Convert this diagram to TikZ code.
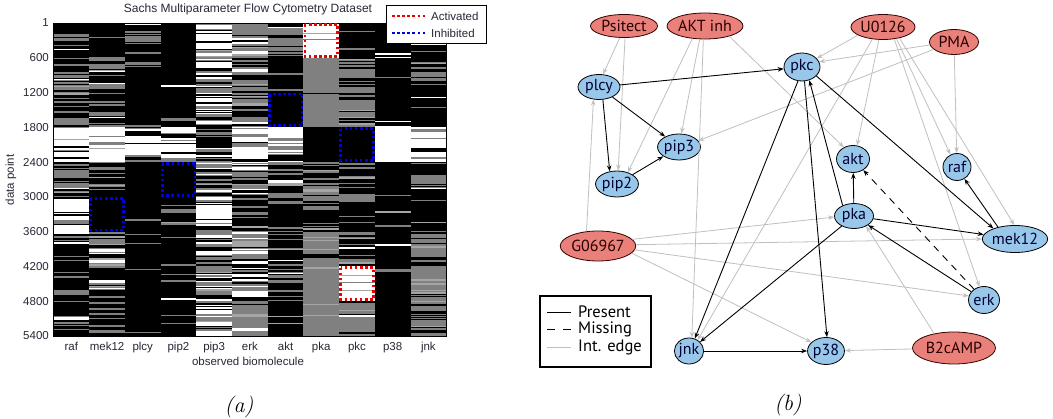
\documentclass[tikz,border=0pt]{standalone}
\usepackage{fontspec}
\newfontfamily\mlfont{Liberation Sans}
\newfontfamily\gfont{PT Sans}
\usetikzlibrary{arrows.meta,shapes.geometric}

\definecolor{nodeblue}{RGB}{152,199,234}
\definecolor{nodered}{RGB}{234,128,122}
\definecolor{intgray}{RGB}{192,192,192}
\definecolor{dotred}{RGB}{235,0,0}
\definecolor{dotblue}{RGB}{0,0,225}
\definecolor{midgray}{RGB}{128,128,128}
\definecolor{ltgray}{RGB}{165,165,165}
\definecolor{mltext}{RGB}{40,40,55}

\gdef\prevk{0}
\newcommand\hmcol[2]{%
  \foreach \hw/\hg [count=\hb from 0] in {#2}{%
    \pgfmathsetmacro\hwg{\hw+\hg}%
    \foreach \hs in {0,...,34}{%
      \pgfmathsetmacro\hr{rnd}%
      \pgfmathsetmacro\hq{rnd}%
      \pgfmathsetmacro\hu{rnd}%
      \def\kn{0}%
      \ifdim\hr pt<\hwg pt \def\kn{2}\ifdim\hq pt<0.1pt \def\kn{3}\fi\fi
      \ifdim\hr pt<\hw pt \def\kn{1}\fi
      \ifnum\hs>0 \ifdim\hu pt<0.35pt \edef\kn{\prevk}\fi\fi
      \xdef\prevk{\kn}%
      \ifnum\kn=1 \fill[white] ({53.5+#1*35.7},{23+\hb*34.78+\hs*0.9937}) rectangle ++(35.7,1.02);\fi
      \ifnum\kn=2 \fill[midgray] ({53.5+#1*35.7},{23+\hb*34.78+\hs*0.9937}) rectangle ++(35.7,1.02);\fi
      \ifnum\kn=3 \fill[ltgray] ({53.5+#1*35.7},{23+\hb*34.78+\hs*0.9937}) rectangle ++(35.7,1.02);\fi
    }%
  }%
}

\tikzset{
  mltxt/.style={font=\mlfont\fontsize{11.5}{12}\selectfont, text=mltext},
  dotbox/.style={line width=2.6pt, dash pattern=on 2.6pt off 2.5pt},
  bnode/.style={ellipse, draw=black, line width=0.8pt, fill=nodeblue, inner sep=0pt,
    font=\gfont\fontsize{16}{16}\selectfont, text=black!80!blue},
  rnode/.style={ellipse, draw=black!80!red, line width=0.8pt, fill=nodered, inner sep=0pt,
    font=\gfont\fontsize{16}{16}\selectfont, text=black!85!red},
  ie/.style={draw=intgray, line width=0.8pt, -{Stealth[length=6pt,width=4.5pt]}},
  pe/.style={draw=black, line width=0.9pt, -{Stealth[length=6pt,width=4.5pt]}},
  me/.style={pe, dash pattern=on 7pt off 6pt},
  legtxt/.style={font=\gfont\fontsize{16.5}{17}\selectfont, anchor=west, inner sep=0pt}
}

\begin{document}
\begin{tikzpicture}[x=1pt,y=-1pt]
\fill[white] (0,0) rectangle (1053,419);
\useasboundingbox (0,0) rectangle (1053,419);

% ---------------- heat map (a) ----------------
\pgfmathsetseed{4711}
\fill[black] (53.5,23) rectangle (446,336);
\hmcol{0}{0.08/0.35,0.06/0.40,0.05/0.45,0.78/0.15,0.08/0.40,0.72/0.18,0.06/0.18,0.04/0.15,0.04/0.28}
\hmcol{1}{0.0/0.05,0.03/0.50,0.03/0.52,0.88/0.08,0.04/0.40,0.0/0.0,0.06/0.48,0.03/0.35,0.03/0.45}
\hmcol{2}{0.01/0.10,0.02/0.08,0.01/0.05,0.50/0.20,0.0/0.02,0.01/0.08,0.01/0.10,0.0/0.04,0.0/0.03}
\hmcol{3}{0.01/0.08,0.02/0.07,0.05/0.04,0.35/0.35,0.0/0.0,0.01/0.08,0.01/0.08,0.01/0.07,0.01/0.05}
\hmcol{4}{0.35/0.38,0.35/0.42,0.50/0.25,0.06/0.30,0.18/0.45,0.65/0.18,0.30/0.38,0.30/0.38,0.35/0.35}
\hmcol{5}{0.22/0.55,0.15/0.65,0.06/0.60,0.70/0.15,0.28/0.42,0.02/0.30,0.25/0.55,0.42/0.38,0.12/0.75}
\hmcol{6}{0.05/0.28,0.04/0.22,0.0/0.0,0.65/0.20,0.02/0.30,0.01/0.35,0.02/0.22,0.01/0.10,0.01/0.10}
\hmcol{7}{0.88/0.10,0.0/0.97,0.0/0.97,0.0/0.0,0.0/0.80,0.0/0.45,0.0/0.87,0.0/0.90,0.0/0.92}
\hmcol{8}{0.01/0.10,0.02/0.50,0.02/0.70,0.0/0.0,0.02/0.62,0.01/0.30,0.01/0.55,0.82/0.15,0.01/0.80}
\hmcol{9}{0.06/0.04,0.01/0.05,0.01/0.03,0.95/0.03,0.01/0.07,0.01/0.05,0.01/0.07,0.02/0.07,0.01/0.07}
\hmcol{10}{0.01/0.08,0.03/0.55,0.01/0.08,0.60/0.30,0.01/0.28,0.01/0.18,0.02/0.50,0.04/0.85,0.02/0.70}
% fixed blocks: activated pka, gray pka, black pka, activated pkc
\fill[white] (303.4,23) rectangle (339.1,57.8);
\fill[ltgray] (303.4,33) rectangle (339.1,34);
\fill[midgray] (303.4,39) rectangle (339.1,40);
\fill[midgray] (303.4,57.8) rectangle (339.1,127.3);
\fill[black] (303.4,93.5) rectangle (339.1,94.5);
\fill[black] (303.4,127.3) rectangle (339.1,162.1);
\fill[white] (339.1,266.5) rectangle (374.8,301.2);
\fill[ltgray] (339.1,275) rectangle (374.8,276);
\fill[midgray] (339.1,282) rectangle (374.8,283);
\fill[ltgray] (339.1,290) rectangle (374.8,291);
\draw[black, line width=0.6pt] (53.5,23) rectangle (446,336);

% dotted boxes
\draw[dotbox, dotred]  (304.9,24.5) rectangle (337.6,56.3);
\draw[dotbox, dotblue] (269.2,94.1) rectangle (301.9,125.8);
\draw[dotbox, dotblue] (340.6,128.8) rectangle (373.3,160.6);
\draw[dotbox, dotblue] (162.4,163.6) rectangle (195.1,195.4);
\draw[dotbox, dotblue] (90.7,198.4) rectangle (123.4,230.2);
\draw[dotbox, dotred]  (340.6,267.7) rectangle (373.3,299.5);

% title and legend
\node[mltxt, font=\mlfont\fontsize{12}{13}\selectfont] (title) at (248,9) {Sachs Multiparameter Flow Cytometry Dataset};
\draw[black, fill=white, line width=0.6pt] (386,5) rectangle (486,43);
\draw[dotbox, dotred]  (392,16) -- (425,16);
\draw[dotbox, dotblue] (392,33) -- (425,33);
\node[mltxt, anchor=west, inner sep=0pt] (lact) at (431,16) {Activated};
\node[mltxt, anchor=west, inner sep=0pt] (linh) at (431,33.5) {Inhibited};

% axes labels
\foreach \t [count=\i from 0] in {1,600,1200,1800,2400,3000,3600,4200,4800,5400}{
  \node[mltxt, anchor=east, inner sep=0pt] (yt\i) at (49,{23+\i*34.78}) {\t};
}
\foreach \t [count=\i from 0] in {raf,mek12,plcy,pip2,pip3,erk,akt,pka,pkc,p38,jnk}{
  \node[mltxt, anchor=base, inner sep=0pt] (xt\i) at ({53.5+17.85+\i*35.7},351) {\t};
}
\node[mltxt, anchor=base, inner sep=0pt] (xlab) at (248,366) {observed biomolecule};
\node[mltxt, rotate=90] (ylab) at (11,180) {data point};

\node[font=\fontsize{22}{24}\selectfont\itshape] (capa) at (239,407) {(a)};
\node[font=\fontsize{22}{24}\selectfont\itshape] (capb) at (788,405) {(b)};

% ---------------- graph (b) ----------------
\node[rnode, minimum width=67pt, minimum height=23pt] (Psitect) at (624,26) {Psitect};
\node[rnode, minimum width=76pt, minimum height=26pt] (AKTinh) at (705,26) {AKT inh};
\node[rnode, minimum width=61pt, minimum height=25pt] (U0126) at (883,27) {U0126};
\node[rnode, minimum width=49pt, minimum height=25pt] (PMA) at (954,42) {PMA};
\node[rnode, minimum width=73pt, minimum height=30pt] (G06967) at (598,246) {G06967};
\node[rnode, minimum width=83pt, minimum height=32pt] (B2cAMP) at (954,348) {B2cAMP};

\node[bnode, minimum width=36pt, minimum height=28pt] (pkc) at (802,67) {pkc};
\node[bnode, minimum width=42pt, minimum height=25pt] (plcy) at (599,87) {plcy};
\node[bnode, minimum width=41pt, minimum height=26pt] (pip3) at (679,147) {pip3};
\node[bnode, minimum width=41pt, minimum height=26pt] (pip2) at (617,184) {pip2};
\node[bnode, minimum width=33pt, minimum height=27pt] (akt) at (853,159) {akt};
\node[bnode, minimum width=28pt, minimum height=27pt] (raf) at (957,167) {raf};
\node[bnode, minimum width=39pt, minimum height=25pt] (pka) at (854,216) {pka};
\node[bnode, minimum width=63pt, minimum height=27pt] (mek12) at (1015,239) {mek12};
\node[bnode, minimum width=31pt, minimum height=27pt] (erk) at (984,300) {erk};
\node[bnode, minimum width=29pt, minimum height=26pt] (jnk) at (689,351) {jnk};
\node[bnode, minimum width=35pt, minimum height=27pt] (p38) at (826,351) {p38};

% intervention edges
\draw[ie] (Psitect.250) -- (plcy.72);
\draw[ie] (Psitect.275) -- (pip2.85);
\draw[ie] (AKTinh.225) -- (pip2.47);
\draw[ie] (AKTinh.248) -- (pip3.80);
\draw[ie] (AKTinh.263) -- (jnk.78);
\draw[ie] (AKTinh.337) -- (akt.128);
\draw[ie] (U0126.198) -- (pkc.30);
\draw[ie] (U0126.252) -- (akt.73);
\draw[ie] (U0126.229) -- (jnk.52);
\draw[ie] (U0126.319) -- (raf.118);
\draw[ie] (U0126.313) -- (erk.109);
\draw[ie] (U0126.326) -- (mek12.93);
\draw[ie] (PMA.187) -- (pkc.17);
\draw[ie] (PMA.200) -- (pip3.18);
\draw[ie] (PMA) -- (raf);
\draw[ie] (G06967.128) -- (plcy.246);
\draw[ie] (G06967.11) -- (pka.183);
\draw[ie] (G06967.2) -- (mek12.180);
\draw[ie] (G06967.354) -- (erk.165);
\draw[ie] (G06967.348) -- (p38.149);
\draw[ie] (B2cAMP.144) -- (pka.320);
\draw[ie] (B2cAMP) -- (p38);

% present edges
\draw[pe] (plcy) -- (pkc);
\draw[pe] (plcy.287) -- (pip2.120);
\draw[pe] (plcy) -- (pip3);
\draw[pe] (pip2) -- (pip3);
\draw[pe] (pkc.254) -- (jnk.65);
\draw[pe] (pkc.280) -- (p38.86);
\draw[pe] (pka.137) -- (pkc.299);
\draw[pe] (pkc.-32) -- (mek12.154);
\draw[pe] (pka) -- (akt);
\draw[pe] (pka) -- (mek12);
\draw[pe] (erk) -- (pka);
\draw[pe] (mek12.145) -- (raf.302);
\draw[pe] (pka) -- (jnk);
\draw[pe] (jnk) -- (p38);
% missing edge
\draw[me] (erk) -- (akt);

% legend
\draw[black, line width=1.2pt] (540,296) rectangle (651,367);
\coordinate (l1a) at (547,312); \coordinate (l1b) at (571,312);
\coordinate (l2a) at (547,329); \coordinate (l2b) at (571,329);
\coordinate (l3a) at (547,347); \coordinate (l3b) at (571,347);
\draw[black, line width=0.9pt] (l1a) -- (l1b);
\draw[black, line width=0.9pt, dash pattern=on 8pt off 8pt] (l2a) -- (l2b);
\draw[intgray, line width=0.9pt] (l3a) -- (l3b);
\node[legtxt] (lp) at (578,312) {Present};
\node[legtxt] (lm) at (578,329) {Missing};
\node[legtxt] (li) at (578,347) {Int. edge};
\end{tikzpicture}
\end{document}
